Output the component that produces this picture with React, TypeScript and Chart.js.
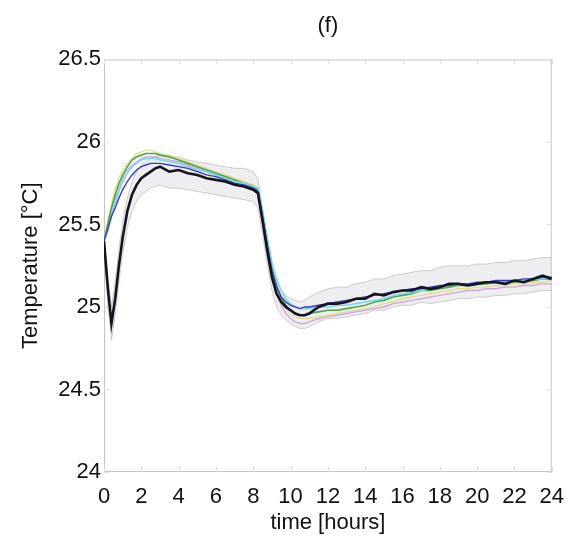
import React, { useEffect, useRef } from "react";
import { Chart, registerables } from "chart.js";

Chart.register(...registerables);

// time axis (hours)
const hours = [
  0, 0.2, 0.4, 0.6, 0.8, 1.0, 1.25, 1.5, 1.75, 2.0, 2.25, 2.5, 2.75, 3.0,
  3.5, 4.0, 4.5, 5.0, 5.5, 6.0, 6.5, 7.0, 7.5, 8.0, 8.25, 8.5, 8.75, 9.0,
  9.25, 9.5, 9.75, 10.0, 10.25, 10.5, 10.75, 11.0, 11.5, 12.0, 12.5, 13.0,
  13.5, 14.0, 14.5, 15.0, 15.5, 16.0, 16.5, 17.0, 17.5, 18.0, 18.5, 19.0,
  19.5, 20.0, 20.5, 21.0, 21.5, 22.0, 22.5, 23.0, 23.5, 24.0,
];

// measured (black)
const measured = [
  25.4, 25.12, 24.9, 25.05, 25.25, 25.42, 25.58, 25.68, 25.74, 25.78, 25.8, 25.82, 25.84, 25.85,
  25.82, 25.83, 25.81, 25.8, 25.78, 25.77, 25.76, 25.74, 25.73, 25.71, 25.69, 25.52, 25.34, 25.18,
  25.08, 25.03, 25.0, 24.98, 24.96, 24.95, 24.95, 24.96, 25.0, 25.02, 25.02, 25.03,
  25.05, 25.05, 25.08, 25.07, 25.09, 25.1, 25.1, 25.12, 25.11, 25.12, 25.14, 25.14,
  25.13, 25.14, 25.15, 25.15, 25.14, 25.16, 25.15, 25.17, 25.19, 25.17,
];

// model runs (coloured)
const runGreen = [
  25.4, 25.5, 25.6, 25.68, 25.75, 25.8, 25.85, 25.89, 25.91, 25.92, 25.93, 25.93, 25.93, 25.92,
  25.91, 25.89, 25.87, 25.85, 25.83, 25.81, 25.79, 25.77, 25.75, 25.73, 25.71, 25.56, 25.38, 25.23,
  25.13, 25.06, 25.01, 24.98, 24.96, 24.95, 24.95, 24.96, 24.97, 24.98, 24.98, 24.99,
  25.0, 25.01, 25.03, 25.04, 25.06, 25.07, 25.08, 25.1, 25.1, 25.11, 25.12, 25.13,
  25.13, 25.14, 25.14, 25.15, 25.15, 25.15, 25.16, 25.16, 25.17, 25.17,
];
const runCyan = [
  25.4, 25.46, 25.55, 25.63, 25.7, 25.76, 25.81, 25.85, 25.87, 25.89, 25.9, 25.9, 25.9, 25.89,
  25.88, 25.87, 25.85, 25.83, 25.82, 25.8, 25.78, 25.76, 25.75, 25.73, 25.72, 25.58, 25.42, 25.27,
  25.17, 25.1, 25.05, 25.02, 25.0, 24.99, 24.99, 24.99, 25.0, 25.0, 25.01, 25.01,
  25.02, 25.03, 25.04, 25.05, 25.07, 25.08, 25.09, 25.1, 25.11, 25.12, 25.13, 25.13,
  25.14, 25.14, 25.15, 25.15, 25.15, 25.16, 25.16, 25.17, 25.17, 25.18,
];
const runYellow = [
  25.4, 25.52, 25.62, 25.71, 25.78, 25.83, 25.87, 25.9, 25.93, 25.94, 25.95, 25.95, 25.94, 25.93,
  25.92, 25.9, 25.88, 25.86, 25.84, 25.82, 25.8, 25.78, 25.76, 25.74, 25.72, 25.57, 25.4, 25.24,
  25.12, 25.04, 24.99, 24.96, 24.94, 24.93, 24.93, 24.93, 24.94, 24.95, 24.96, 24.97,
  24.98, 24.99, 25.0, 25.02, 25.03, 25.05, 25.06, 25.07, 25.08, 25.09, 25.1, 25.11,
  25.11, 25.12, 25.12, 25.13, 25.13, 25.14, 25.14, 25.15, 25.15, 25.16,
];
const runBlue = [
  25.4, 25.47, 25.55, 25.6, 25.66, 25.71, 25.76, 25.8, 25.83, 25.85, 25.86, 25.87, 25.87, 25.87,
  25.86, 25.85, 25.84, 25.82, 25.8, 25.79, 25.77, 25.75, 25.74, 25.72, 25.7, 25.55, 25.38, 25.22,
  25.12, 25.06, 25.03, 25.01, 25.0, 24.99, 25.0, 25.0, 25.01, 25.02, 25.03, 25.04,
  25.05, 25.06, 25.07, 25.08, 25.09, 25.1, 25.11, 25.11, 25.12, 25.13, 25.13, 25.14,
  25.14, 25.15, 25.15, 25.16, 25.16, 25.16, 25.17, 25.17, 25.18, 25.18,
];
const runMagenta = [
  25.4, 25.48, 25.57, 25.65, 25.72, 25.78, 25.83, 25.86, 25.88, 25.9, 25.91, 25.91, 25.91, 25.9,
  25.89, 25.88, 25.86, 25.84, 25.82, 25.8, 25.79, 25.77, 25.75, 25.73, 25.71, 25.54, 25.36, 25.2,
  25.08, 25.01, 24.96, 24.93, 24.91, 24.9, 24.9, 24.91, 24.93, 24.94, 24.95, 24.96,
  24.97, 24.98, 24.99, 25.0, 25.02, 25.03, 25.04, 25.05, 25.06, 25.07, 25.08, 25.09,
  25.1, 25.1, 25.11, 25.11, 25.12, 25.12, 25.13, 25.13, 25.14, 25.14,
];

// spread band (grey)
const bandUpper = [
  25.42, 25.2, 25.0, 25.15, 25.35, 25.52, 25.66, 25.76, 25.82, 25.86, 25.88, 25.9, 25.91, 25.92,
  25.9, 25.91, 25.89, 25.88, 25.87, 25.86, 25.85, 25.84, 25.84, 25.82, 25.78, 25.6, 25.42, 25.26,
  25.15, 25.1, 25.07, 25.05, 25.04, 25.03, 25.04, 25.06, 25.09, 25.11, 25.12, 25.12,
  25.14, 25.15, 25.17, 25.17, 25.19, 25.2, 25.21, 25.22, 25.22, 25.24, 25.25, 25.25,
  25.25, 25.26, 25.26, 25.27, 25.27, 25.28, 25.28, 25.29, 25.3, 25.3,
];
const bandLower = [
  25.36, 25.02, 24.8, 24.95, 25.15, 25.32, 25.48, 25.58, 25.64, 25.68, 25.7, 25.72, 25.73, 25.74,
  25.72, 25.72, 25.71, 25.7, 25.69, 25.68, 25.67, 25.66, 25.65, 25.64, 25.6, 25.44, 25.26, 25.1,
  25.0, 24.95, 24.92, 24.9, 24.88, 24.87, 24.87, 24.88, 24.91, 24.93, 24.93, 24.94,
  24.95, 24.96, 24.98, 24.98, 25.0, 25.01, 25.01, 25.03, 25.02, 25.03, 25.04, 25.05,
  25.05, 25.06, 25.06, 25.07, 25.07, 25.08, 25.08, 25.09, 25.1, 25.1,
];

const yMin = 24;
const yMax = 26.5;
const yStep = 0.5;
const xMin = 0;
const xMax = 24;
const xStep = 2;

const titleText = "(f)";
const xTitle = "time [hours]";
const yTitle = "Temperature [°C]";

const FONT = "'Liberation Sans', Arial, Helvetica, sans-serif";
const TEXT = "#111111";

const pts = (ys: number[]) => hours.map((h, i) => ({ x: h, y: ys[i] }));

const framePlugin = {
  id: "frame",
  beforeDatasetsDraw(chart: any) {
    const { ctx, chartArea, scales } = chart;
    const { left, right, top, bottom } = chartArea;
    ctx.save();
    ctx.strokeStyle = "#c4c4c4";
    ctx.lineWidth = 1;
    ctx.strokeRect(left + 0.5, top + 0.5, right - left - 1, bottom - top - 1);
    ctx.strokeStyle = "#dddddd";
    const tl = 5;
    scales.x.ticks.forEach((t: any) => {
      const px = Math.round(scales.x.getPixelForValue(t.value)) + 0.5;
      ctx.beginPath();
      ctx.moveTo(px, bottom);
      ctx.lineTo(px, bottom - tl);
      ctx.moveTo(px, top);
      ctx.lineTo(px, top + tl);
      ctx.stroke();
    });
    scales.y.ticks.forEach((t: any) => {
      const py = Math.round(scales.y.getPixelForValue(t.value)) + 0.5;
      ctx.beginPath();
      ctx.moveTo(left, py);
      ctx.lineTo(left + tl, py);
      ctx.moveTo(right, py);
      ctx.lineTo(right - tl, py);
      ctx.stroke();
    });
    ctx.restore();
  },
};

export default function App() {
  const canvasRef = useRef<HTMLCanvasElement | null>(null);

  useEffect(() => {
    document.body.style.margin = "0";
    const canvas = canvasRef.current;
    if (!canvas) return;

    const line = (label: string, ys: number[], color: string, width: number, order: number) => ({
      label,
      data: pts(ys),
      borderColor: color,
      backgroundColor: color,
      borderWidth: width,
      pointRadius: 0,
      tension: 0,
      fill: false,
      order,
    });

    const chart = new Chart(canvas, {
      type: "line",
      data: {
        datasets: [
          line("measured", measured, "#141420", 2.6, 0),
          line("run blue", runBlue, "#3a3ab8", 1.4, 1),
          line("run cyan", runCyan, "#7fd6e6", 1.6, 2),
          line("run green", runGreen, "#4aa84a", 1.6, 3),
          line("run magenta", runMagenta, "rgba(200,150,215,0.8)", 1.4, 4),
          line("run yellow", runYellow, "rgba(225,215,120,0.8)", 1.4, 5),
          {
            label: "upper",
            data: pts(bandUpper),
            borderColor: "rgba(170,170,170,0.55)",
            borderWidth: 1,
            pointRadius: 0,
            fill: false,
            order: 9,
          },
          {
            label: "lower",
            data: pts(bandLower),
            borderColor: "rgba(170,170,170,0.55)",
            borderWidth: 1,
            pointRadius: 0,
            fill: "-1",
            backgroundColor: "rgba(205,205,212,0.35)",
            order: 10,
          },
        ],
      },
      options: {
        responsive: false,
        animation: false,
        devicePixelRatio: 1,
        layout: { padding: { left: 0, right: 22, top: 0, bottom: 0 } },
        plugins: {
          legend: { display: false },
          tooltip: { enabled: false },
          title: {
            display: true,
            text: titleText,
            fullSize: false,
            color: TEXT,
            font: { family: FONT, size: 22, weight: "normal" },
            padding: { top: 13, bottom: 20 },
          },
        },
        scales: {
          x: {
            type: "linear",
            min: xMin,
            max: xMax,
            grid: { drawOnChartArea: false, drawTicks: false },
            border: { display: false },
            ticks: {
              stepSize: xStep,
              autoSkip: false,
              maxRotation: 0,
              padding: 12,
              color: TEXT,
              font: { family: FONT, size: 22 },
              callback: (v: any) => String(Number(v)),
            },
            title: {
              display: true,
              text: xTitle,
              color: TEXT,
              font: { family: FONT, size: 22 },
              padding: { top: 0, bottom: 5 },
            },
            afterFit(scale: any) {
              scale.height = 69;
            },
          },
          y: {
            type: "linear",
            min: yMin,
            max: yMax,
            grid: { drawOnChartArea: false, drawTicks: false },
            border: { display: false },
            ticks: {
              stepSize: yStep,
              padding: 3,
              color: TEXT,
              font: { family: FONT, size: 22 },
              callback: (v: any) => String(Number(v)),
            },
            title: {
              display: true,
              text: yTitle,
              color: TEXT,
              font: { family: FONT, size: 22 },
              padding: { top: 18, bottom: 0 },
            },
            afterFit(scale: any) {
              scale.width = 104;
            },
          },
        },
      },
      plugins: [framePlugin],
    } as any);

    return () => chart.destroy();
  }, []);

  return (
    <div style={{ position: "absolute", left: 0, top: 0, width: 576, height: 541, background: "#fff" }}>
      <canvas ref={canvasRef} width={576} height={541} style={{ display: "block" }} />
    </div>
  );
}
